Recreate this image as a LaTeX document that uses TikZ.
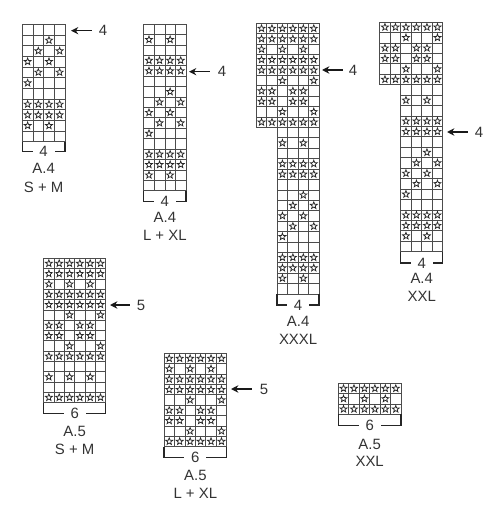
\documentclass[tikz,border=0pt]{standalone}
\usepackage{fontspec}
\setmainfont{Liberation Sans}
\usetikzlibrary{arrows.meta,calc}
\tikzset{
  x=0.75pt,y=-0.75pt,
  cellbox/.style={draw=black!70,line width=0.5pt},
  starline/.style={draw=black!85,line width=0.55pt,line join=miter},
  bracketline/.style={draw=black!85,line width=1.1pt},
  pointer/.style={draw=black!90,line width=1.05pt,{Stealth[length=5.5pt,width=5.5pt]}-},
  txt/.style={inner sep=0pt,font=\fontsize{11.2}{13}\selectfont,text=black!80},
  starglyph/.pic={\draw[starline] (90:2.75pt)--(126:1.15pt)--(162:2.75pt)--(198:1.15pt)--(234:2.75pt)--(270:1.15pt)--(306:2.75pt)--(342:1.15pt)--(18:2.75pt)--(54:1.15pt)--cycle;}
}
% x0, y0, x1, row height, ncols, rows
\newcommand\gridblock[6]{%
  \pgfmathsetmacro\cw{(#3-#1)/#5}%
  \foreach \row [count=\j from 0] in {#6}{%
    \foreach \i in {1,...,#5}{%
      \draw[cellbox] ({#1+(\i-1)*\cw},{#2+\j*#4}) rectangle ({#1+\i*\cw},{#2+(\j+1)*#4});
    }%
    \foreach \c in \row {%
      \ifnum\c>0
        \path ({#1+(\c-0.5)*\cw},{#2+(\j+0.5)*#4}) pic {starglyph};
      \fi
    }%
  }%
}
% name, x0, x1, y top, y bottom, number, line 1 y, line 1, line 2 y, line 2
\newcommand\bracketlabel[9]{%
  \node[txt] (#1n) at ({(#2+#3)/2},#5) {#6};
  \coordinate (#1a) at (#2,#4);
  \coordinate (#1b) at (#3,#4);
  \draw[bracketline] (#1a) -- (#2,#5) -- ({(#2+#3)/2-11},#5);
  \draw[bracketline] (#1b) -- (#3,#5) -- ({(#2+#3)/2+11},#5);
  \node[txt] (#1t) at ({(#2+#3)/2},#7) {#8};
  \node[txt] (#1u) at ({(#2+#3)/2},#9) {\bracketsecond};
}
% name, arrow tip x, arrow tail x, y, number x, number
\newcommand\marker[6]{%
  \coordinate (#1tip) at (#2,#4);
  \coordinate (#1tail) at (#3,#4);
  \node[txt] (#1num) at (#5,#4) {#6};
  \draw[pointer] (#1tip) -- (#1tail);
}
\begin{document}
\begin{tikzpicture}
\useasboundingbox (0,0) rectangle (500,513);
% A.4 S+M
\gridblock{22.3}{24.3}{65}{10.67}{4}{{0},{3},{2,4},{1,3},{2,4},{1},{0},{1,2,3,4},{1,2,3,4},{1,3},{0}}
\def\bracketsecond{S + M}
\bracketlabel{a}{22.3}{65}{141.7}{151.7}{4}{168}{A.4}{187}
\marker{ma}{71}{92}{30.7}{103}{4}
% A.4 L+XL
\gridblock{143.7}{24}{186}{10.42}{4}{{0},{1,3},{0},{1,2,3,4},{1,2,3,4},{0},{3},{2,4},{1,3},{2,4},{1},{0},{1,2,3,4},{1,2,3,4},{1,3},{0}}
\def\bracketsecond{L + XL}
\bracketlabel{b}{143.7}{186}{190.7}{201.7}{4}{217}{A.4}{235}
\marker{mb}{189}{210}{71.7}{222}{4}
% A.4 XXXL
\gridblock{256.3}{23.3}{319}{10.41}{6}{{1,2,3,4,5,6},{1,2,3,4,5,6},{1,3,5},{1,2,3,4,5,6},{1,2,3,4,5,6},{3,6},{1,2,4,5},{1,2,4,5},{3,6},{1,2,3,4,5,6}}
\gridblock{277.2}{127.4}{319}{10.41}{4}{{0},{1,3},{0},{1,2,3,4},{1,2,3,4},{0},{3},{2,4},{1,3},{2,4},{1},{0},{1,2,3,4},{1,2,3,4},{1,3},{0}}
\def\bracketsecond{XXXL}
\bracketlabel{c}{277.2}{319}{294}{305}{4}{321}{A.4}{339}
\marker{mc}{322}{343}{70}{353}{4}
% A.4 XXL
\gridblock{379.7}{22}{442.7}{10.44}{6}{{1,2,3,4,5,6},{3,6},{1,2,4,5},{1,2,4,5},{3,6},{1,2,3,4,5,6}}
\gridblock{400.7}{84.6}{442.7}{10.44}{4}{{0},{1,3},{0},{1,2,3,4},{1,2,3,4},{0},{3},{2,4},{1,3},{2,4},{1},{0},{1,2,3,4},{1,2,3,4},{1,3},{0}}
\def\bracketsecond{XXL}
\bracketlabel{d}{400.7}{442.7}{251.7}{263}{4}{278}{A.4}{296}
\marker{md}{447}{468}{132}{479}{4}
% A.5 S+M
\gridblock{43.7}{258.3}{105.7}{10.31}{6}{{1,2,3,4,5,6},{1,2,3,4,5,6},{1,3,5},{1,2,3,4,5,6},{1,2,3,4,5,6},{3,6},{1,2,4,5},{1,2,4,5},{3,6},{1,2,3,4,5,6},{0},{1,3,5},{0},{1,2,3,4,5,6}}
\def\bracketsecond{S + M}
\bracketlabel{e}{43.7}{105.7}{402.7}{413.5}{6}{431}{A.5}{449}
\marker{me}{110}{130}{305}{141}{5}
% A.5 L+XL
\gridblock{164}{353.3}{226.7}{10.37}{6}{{1,2,3,4,5,6},{1,3,5},{1,2,3,4,5,6},{1,2,3,4,5,6},{3,6},{1,2,4,5},{1,2,4,5},{3,6},{1,2,3,4,5,6}}
\def\bracketsecond{L + XL}
\bracketlabel{f}{164}{226.7}{446.7}{457.7}{6}{475.7}{A.5}{493}
\marker{mf}{231}{252}{389}{264}{5}
% A.5 XXL
\gridblock{338.3}{383.3}{401}{10.33}{6}{{1,2,3,4,5,6},{1,3,5},{1,2,3,4,5,6}}
\def\bracketsecond{XXL}
\bracketlabel{g}{338.3}{401}{414.3}{425.7}{6}{444}{A.5}{461.7}
\end{tikzpicture}
\end{document}
